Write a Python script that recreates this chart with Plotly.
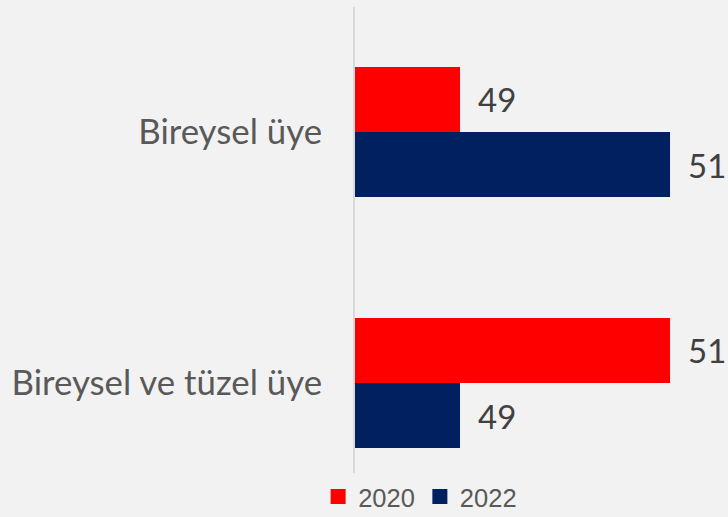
import plotly.graph_objects as go

categories = ["Bireysel üye", "Bireysel ve tüzel üye"]
years = ["2020", "2022"]
values_2020 = [49, 51]
values_2022 = [51, 49]
colors = ["#ff0000", "#002060"]

series = [values_2020, values_2022]
n = len(categories)

fig = go.Figure()
for name, vals, col in zip(years, series, colors):
    fig.add_trace(go.Bar(
        y=list(range(n)), x=vals, name=name, orientation="h",
        marker=dict(color=col, line=dict(width=0)),
        offsetgroup=name, showlegend=False,
    ))
# legend entries with larger square symbols
for name, col in zip(years, colors):
    fig.add_trace(go.Scatter(
        x=[None], y=[None], mode="markers", name=name,
        marker=dict(symbol="square", size=15, color=col),
        showlegend=True,
    ))

# value labels
for ti, (name, vals) in enumerate(zip(years, series)):
    for ci, v in enumerate(vals):
        off = -0.13 if ti == 0 else 0.13
        fig.add_annotation(
            x=v, y=ci + off, xref="x", yref="y", text=str(v),
            showarrow=False, xanchor="left", xshift=16,
            font=dict(family="Lato", size=33, color="#404040"),
        )

W, H = 728, 517
left, top, bottom_px = 355, 7, 473
fig.update_layout(
    width=W, height=H,
    margin=dict(l=left, r=0, t=top, b=H - bottom_px, autoexpand=False),
    paper_bgcolor="#f2f2f2", plot_bgcolor="rgba(0,0,0,0)",
    barmode="group", bargap=0.482, bargroupgap=0,
    showlegend=True,
    legend=dict(orientation="h", xref="container", yref="container",
                x=0.437, xanchor="left", y=(H - 497) / H, yanchor="middle",
                font=dict(family="Liberation Sans", size=25.5, color="#595959"),
                itemwidth=30, traceorder="normal", bgcolor="rgba(0,0,0,0)"),
)
fig.update_xaxes(range=[48, 51.552], visible=False, showgrid=False, zeroline=False)
fig.update_yaxes(
    type="linear", range=[1.359, -0.498],
    tickvals=list(range(n)), ticktext=categories,
    showline=True, linecolor="#d9d9d9", linewidth=2,
    showgrid=False, zeroline=False, ticks="",
    ticklabelstandoff=24, automargin=False,
    tickfont=dict(family="Lato", size=34.8, color="#595959"),
)

fig.write_html("out.html", config={"displayModeBar": False},
               post_script="document.body.style.margin='0';")
